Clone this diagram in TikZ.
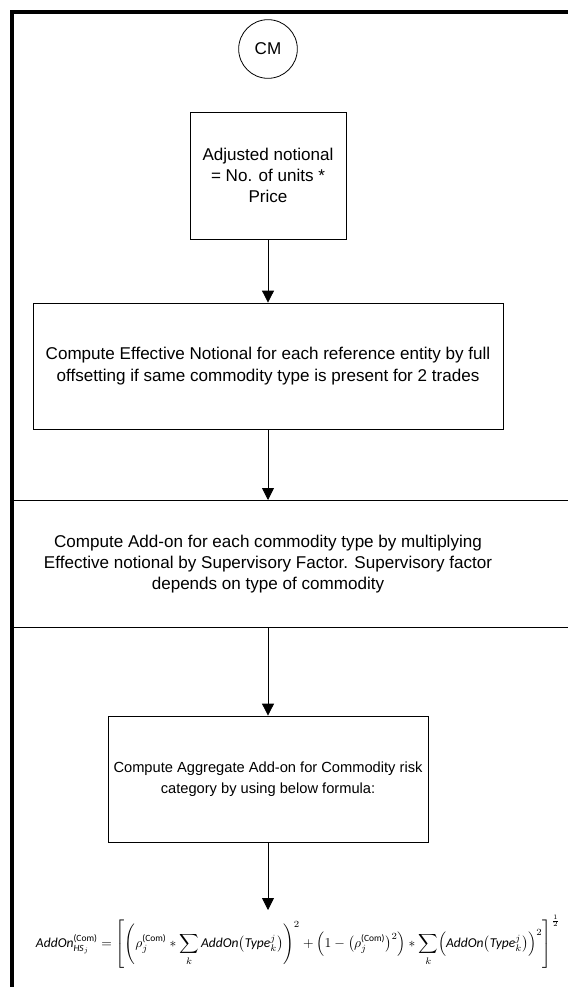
\documentclass[tikz,border=0pt]{standalone}
\usepackage{amsmath}
\usepackage{fontspec}
\setmainfont{Liberation Sans}
\newfontfamily\calfont{Carlito}
\usetikzlibrary{arrows.meta,positioning,calc}

\newcommand{\cit}[1]{\text{\calfont\itshape #1}}
\newcommand{\crm}[1]{\text{\calfont #1}}

\begin{document}
\begin{tikzpicture}[x=0.75pt, y=-0.75pt,
    stepbox/.style={draw, line width=0.6pt, align=center, inner sep=0pt,
                    font=\fontsize{12.8}{16}\selectfont},
    start/.style={circle, draw, line width=0.6pt, minimum size=44pt, inner sep=0pt,
                  font=\fontsize{12.8}{15}\selectfont},
    band/.style={align=center, font=\fontsize{12.8}{15.8}\selectfont},
    flow/.style={-{Triangle[length=9pt,width=9pt]}, line width=0.6pt},
    sep/.style={line width=0.6pt}
]
\useasboundingbox (0,0) rectangle (568,987);

% outer frame
\draw[line width=2.4pt] (12,987) -- (12,12) -- (568,12);

% start
\node[start] (cm) at (268,49) {CM};

% notional
\node[stepbox, minimum width=117pt, minimum height=95.25pt] (adj) at (268,175.5)
    {Adjusted notional\\= No. of units *\\Price};

\node[stepbox, minimum width=352.5pt, minimum height=94.5pt] (eff) at (268,366)
    {Compute Effective Notional for each reference entity by full\\
     offsetting if same commodity type is present for 2 trades};

% add-on band
\draw[sep] (12,500) -- (568,500);
\draw[sep] (12,627) -- (568,627);
\coordinate (bandtop) at (268,500);
\coordinate (bandbot) at (268,627);
\node[band] (addon) at (268,564)
    {Compute Add-on for each commodity type by multiplying\\
     Effective notional by Supervisory Factor. Supervisory factor\\
     depends on type of commodity};

% aggregate
\node[stepbox, minimum width=240pt, minimum height=94.5pt,
      font=\fontsize{11}{15.5}\selectfont] (agg) at (268,779)
    {Compute Aggregate Add-on for Commodity risk\\
     category by using below formula:};
\coordinate (fend) at (268,910);

\node (formula) at (298,942) {\resizebox{393pt}{!}{$\displaystyle
    \cit{AddOn}^{\crm{(Com)}}_{\cit{HS}_j}
    = \left[\left(\rho_j^{\crm{(Com)}} * \sum_k \cit{AddOn}\bigl(\cit{Type}^j_k\bigr)\right)^{2}
    + \left(1-\bigl(\rho_j^{\crm{(Com)}}\bigr)^{2}\right) *
      \sum_k \Bigl(\cit{AddOn}\bigl(\cit{Type}^j_k\bigr)\Bigr)^{2}\right]^{\frac{1}{2}}$}};

\draw[flow] (adj) -- (eff);
\draw[flow] (eff) -- (bandtop);
\draw[flow] (bandbot) -- (agg);
\draw[flow] (agg) -- (fend);

\end{tikzpicture}
\end{document}
